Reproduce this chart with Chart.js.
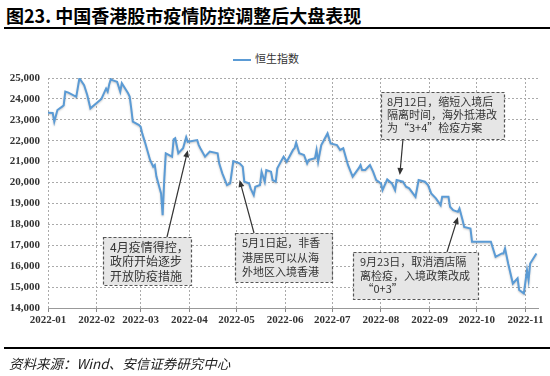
<!DOCTYPE html>
<html>
<head>
<meta charset="utf-8">
<script src="https://cdn.jsdelivr.net/npm/chart.js@4.4.1/dist/chart.umd.min.js"></script>
<style>
  html, body { margin: 0; padding: 0; background: #fff; }
  #wrap { position: relative; width: 550px; height: 376px; overflow: hidden; }
  #chart { position: absolute; left: 0; top: 0; }
  .title { position: absolute; left: 6px; top: 2px; font: bold 18px "Noto Sans CJK SC", sans-serif; color: #000; white-space: nowrap; }
  .rule-top { position: absolute; left: 4px; right: 0; top: 27px; height: 2px; background: #000; }
  .rule-bot { position: absolute; left: 4px; right: 0; top: 347px; height: 1.5px; background: #000; }
  .source { position: absolute; left: 9px; top: 353px; font: italic 13.5px "Noto Sans CJK SC", sans-serif; color: #222; white-space: nowrap; }
  .legend { position: absolute; left: 233px; top: 50px; font: 11px "Noto Sans CJK SC", sans-serif; color: #333; white-space: nowrap; }
  .legend i { display: inline-block; width: 18px; height: 2px; background: #5b9bd5; vertical-align: middle; margin-right: 4px; }
</style>
</head>
<body>
<div id="wrap">
  <div class="title">图23. 中国香港股市疫情防控调整后大盘表现</div>
  <div class="rule-top"></div>
  <div class="legend"><i></i>恒生指数</div>
  <canvas id="chart" width="550" height="376"></canvas>
  <div class="rule-bot"></div>
  <div class="source">资料来源：Wind、安信证券研究中心</div>
</div>
<script>
// ── data ────────────────────────────────────────────────────────────────────
const seriesName = '恒生指数';

const dates = [
  '01-01','01-04','01-05','01-07','01-10','01-11','01-12','01-14','01-19','01-21',
  '01-24','01-26','01-28','02-04','02-07','02-08','02-09','02-10','02-11','02-14',
  '02-16','02-17','02-21','02-22','02-23','02-24','02-28','03-01','03-02','03-04',
  '03-07','03-09','03-10','03-11','03-14','03-15','03-16','03-17','03-21','03-22',
  '03-23','03-25','03-28','03-30','03-31','04-06','04-07','04-08','04-11','04-14',
  '04-19','04-20','04-22','04-25','04-27','04-29','05-03','05-05','05-06','05-09',
  '05-10','05-12','05-13','05-16','05-17','05-19','05-20','05-23','05-24','05-26',
  '05-27','05-31','06-02','06-06','06-07','06-08','06-10','06-13','06-15','06-16',
  '06-20','06-21','06-22','06-24','06-28','06-30','07-04','07-06','07-08','07-11',
  '07-14','07-18','07-19','07-20','07-22','07-25','07-27','07-29','08-01','08-02',
  '08-05','08-08','08-10','08-11','08-15','08-17','08-19','08-23','08-25','08-29',
  '08-31','09-02','09-05','09-08','09-09','09-13','09-14','09-16','09-19','09-20',
  '09-22','09-23','09-27','09-28','10-10','10-13','10-17','10-18','10-19','10-21',
  '10-24','10-27','10-28','10-31','11-02','11-03','11-04','11-08'
];

const hsi = [
  23340,23330,22910,23470,23630,23700,24350,24300,24100,24990,
  24660,24190,23550,24000,24500,24350,24700,24950,24900,24820,
  24350,24750,24270,24110,23550,22910,22750,22670,22350,21870,
  21080,20760,20840,20300,19480,18440,20100,21400,21240,22070,
  22120,21400,21640,22170,21950,22030,21790,21640,21240,21480,
  21400,20920,20440,19880,19960,21030,20920,20760,20040,19960,
  19720,19400,19800,19880,20520,20040,20600,20520,20120,20040,
  20680,21240,21000,21560,21640,21910,21400,21320,20920,21080,
  21160,21560,21000,21790,22350,21870,21790,21560,21640,20840,
  20280,20700,20840,20600,20600,20840,20520,20120,19960,19640,
  20150,19960,19640,20120,20040,19800,19720,19320,20120,20040,
  19880,19480,19240,18920,19320,19320,18840,18680,18600,18760,
  18200,17880,17800,17170,17170,16450,16610,16610,16850,16130,
  15170,15420,14860,14700,15810,15330,16130,16610
];

const monthTicks = ['01-01','02-01','03-01','04-01','05-01','06-01','07-01','08-01','09-01','10-01','11-01'];
const monthLabels = ['2022-01','2022-02','2022-03','2022-04','2022-05','2022-06','2022-07','2022-08','2022-09','2022-10','2022-11'];
const yTicks = [14000, 15000, 16000, 17000, 18000, 19000, 20000, 21000, 22000, 23000, 24000, 25000];

// callout boxes: text lines, box layout in px, arrow tip in data space
const notes = [
  { lines: ['4月疫情得控，', '政府开始逐步', '开放防疫措施'],
    box: [103, 237, 88, 48], size: 12, tx: 110, first: 10, lh: 14.5,
    tail: [167, 237], tip: ['03-31', 21550] },
  { lines: ['5月1日起，非香', '港居民可以从海', '外地区入境香港'],
    box: [235, 233, 97, 49], size: 11, tx: 242, first: 10.3, lh: 14.2,
    tail: [254, 233], tip: ['05-03', 20120] },
  { lines: ['8月12日，缩短入境后', '隔离时间，海外抵港改', '为“3+4”检疫方案'],
    box: [381, 92, 123, 47], size: 11, tx: 387, first: 9.7, lh: 13.3,
    tail: [403, 139], tip: ['08-13', 20360] },
  { lines: ['9月23日，取消酒店隔', '离检疫，入境政策改成', ' “0+3”'],
    box: [353, 252, 125, 47], size: 11, tx: 360, first: 9.7, lh: 13.8,
    tail: [447, 252], tip: ['09-19', 18350] },
];

// ── helpers ────────────────────────────────────────────────────────────────
const DAY = 86400000;
const dayOf = md => (Date.UTC(2022, +md.slice(0, 2) - 1, +md.slice(3)) - Date.UTC(2022, 0, 1)) / DAY;
const points = dates.map((d, i) => ({ x: dayOf(d), y: hsi[i] }));
const tickDays = monthTicks.map(dayOf);

const numFont = { family: '"Liberation Serif", "Times New Roman", serif', size: 11, weight: 'bold' };

// soft shadow under the line, like the original
const lineShadow = {
  id: 'lineShadow',
  beforeDatasetDraw(chart) {
    const c = chart.ctx;
    c.save();
    c.shadowColor = 'rgba(0,0,0,0.22)';
    c.shadowBlur = 2;
    c.shadowOffsetY = 1;
  },
  afterDatasetDraw(chart) { chart.ctx.restore(); },
};

const callouts = {
  id: 'callouts',
  afterDatasetsDraw(chart) {
    const c = chart.ctx;
    const xs = chart.scales.x, ys = chart.scales.y;
    notes.forEach(n => {
      const [bx, by, bw, bh] = n.box;
      c.save();
      c.fillStyle = '#e6e6e6';
      c.fillRect(bx, by, bw, bh);
      c.setLineDash([3, 2]);
      c.strokeStyle = '#555';
      c.lineWidth = 1.2;
      c.strokeRect(bx + 0.5, by + 0.5, bw, bh);
      c.setLineDash([]);
      c.fillStyle = '#333';
      c.font = n.size + 'px "Noto Sans CJK SC", sans-serif';
      c.textBaseline = 'middle';
      n.lines.forEach((t, i) => c.fillText(t, n.tx, by + n.first + i * n.lh));

      // arrow
      const [x0, y0] = n.tail;
      const x1 = xs.getPixelForValue(dayOf(n.tip[0]));
      const y1 = ys.getPixelForValue(n.tip[1]);
      const ang = Math.atan2(y1 - y0, x1 - x0);
      const hl = 7, hw = 3;
      c.strokeStyle = '#333';
      c.lineWidth = 1.2;
      c.beginPath();
      c.moveTo(x0, y0);
      c.lineTo(x1 - Math.cos(ang) * hl * 0.8, y1 - Math.sin(ang) * hl * 0.8);
      c.stroke();
      c.fillStyle = '#333';
      c.beginPath();
      c.moveTo(x1, y1);
      c.lineTo(x1 - Math.cos(ang) * hl - Math.sin(ang) * hw, y1 - Math.sin(ang) * hl + Math.cos(ang) * hw);
      c.lineTo(x1 - Math.cos(ang) * hl + Math.sin(ang) * hw, y1 - Math.sin(ang) * hl - Math.cos(ang) * hw);
      c.closePath();
      c.fill();
      c.restore();
    });
  },
};

// ── chart ──────────────────────────────────────────────────────────────────
new Chart(document.getElementById('chart').getContext('2d'), {
  type: 'line',
  data: {
    datasets: [{
      label: seriesName,
      data: points,
      borderColor: '#5b9bd5',
      borderWidth: 2,
      pointRadius: 0,
      tension: 0,
      fill: false,
    }],
  },
  options: {
    responsive: false,
    animation: false,
    layout: { padding: { top: 78, left: 0, right: 12, bottom: 48 } },
    plugins: { legend: { display: false }, tooltip: { enabled: false } },
    scales: {
      x: {
        type: 'linear',
        min: 0, max: 312,
        afterBuildTicks: s => { s.ticks = tickDays.map(v => ({ value: v })); },
        afterFit: s => { s.height = 20; },
        ticks: {
          autoSkip: false, maxRotation: 0, padding: 2,
          color: '#333', font: numFont,
          callback: v => monthLabels[tickDays.indexOf(v)],
        },
        grid: {
          color: '#aaa', lineWidth: 1,
          drawTicks: true, tickLength: 4, tickColor: '#888', tickBorderDash: [],
        },
        // in v4 border.dash styles the grid lines; the axis line itself stays solid
        border: { display: true, color: '#999', width: 1, dash: [2, 2] },
      },
      y: {
        min: 14000, max: 25000,
        afterBuildTicks: s => { s.ticks = yTicks.map(v => ({ value: v })); },
        afterFit: s => { s.width = 48; },
        ticks: {
          padding: 8, color: '#333', font: numFont,
          callback: v => v.toLocaleString('en-US'),
        },
        grid: { color: '#aaa', lineWidth: 1, drawTicks: false },
        border: { display: false, dash: [2, 2] },
      },
    },
  },
  plugins: [lineShadow, callouts],
});
</script>
</body>
</html>
